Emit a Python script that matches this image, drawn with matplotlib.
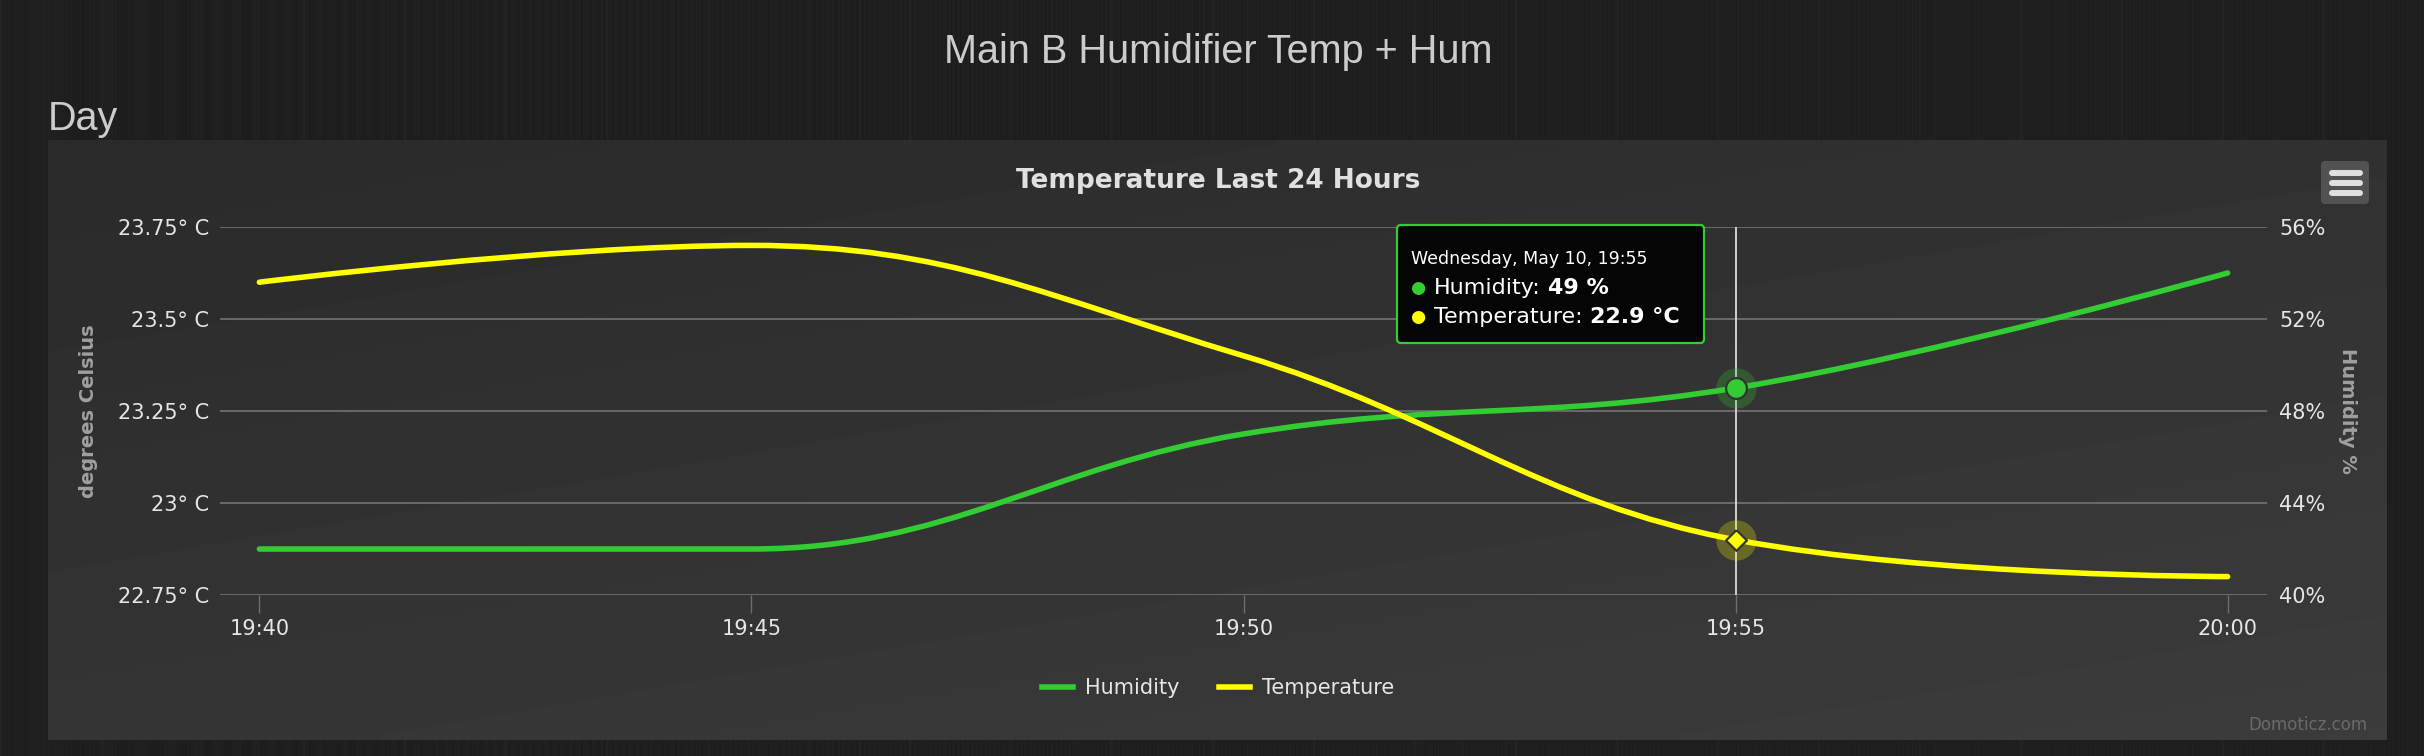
import matplotlib
matplotlib.use('Agg')
import matplotlib.pyplot as plt
import numpy as np
from matplotlib.path import Path
from matplotlib.patches import PathPatch, FancyBboxPatch
from matplotlib.lines import Line2D
from matplotlib.text import Annotation

# data (minutes after 19:40)
minutes = [0, 5, 10, 15, 20]
time_labels = ['19:40', '19:45', '19:50', '19:55', '20:00']
temperature = [23.6, 23.7, 23.4, 22.9, 22.8]
humidity = [42, 42, 47, 49, 54]
temp_ticks = [22.75, 23.0, 23.25, 23.5, 23.75]
temp_tick_labels = ['22.75° C', '23° C', '23.25° C', '23.5° C', '23.75° C']
hum_ticks = [40, 44, 48, 52, 56]
hum_tick_labels = ['40%', '44%', '48%', '52%', '56%']
hover_index = 3
hover_label = 'Wednesday, May 10, 19:55'

GREEN = '#33cc33'
YELLOW = '#ffff00'
W, H = 2424, 756


def fx(px):
    return px / W


def fy(py):
    return 1 - py / H


def spline_path(xs, ys):
    # highcharts style spline (smoothing 1.5)
    sm = 1.5
    den = sm + 1
    verts = [(xs[0], ys[0])]
    codes = [Path.MOVETO]
    prev_right = None
    for i in range(1, len(xs)):
        x, y = xs[i], ys[i]
        lx, ly = xs[i - 1], ys[i - 1]
        left = right = None
        if i < len(xs) - 1:
            nx, ny = xs[i + 1], ys[i + 1]
            lcx, lcy = (sm * x + lx) / den, (sm * y + ly) / den
            rcx, rcy = (sm * x + nx) / den, (sm * y + ny) / den
            if rcx != lcx:
                corr = (rcy - lcy) * (rcx - x) / (rcx - lcx) + y - rcy
                lcy += corr
                rcy += corr
            if lcy > ly and lcy > y:
                lcy = max(ly, y); rcy = 2 * y - lcy
            elif lcy < ly and lcy < y:
                lcy = min(ly, y); rcy = 2 * y - lcy
            if rcy > ny and rcy > y:
                rcy = max(ny, y); lcy = 2 * y - rcy
            elif rcy < ny and rcy < y:
                rcy = min(ny, y); lcy = 2 * y - rcy
            left, right = (lcx, lcy), (rcx, rcy)
        verts += [prev_right or (lx, ly), left or (x, y), (x, y)]
        codes += [Path.CURVE4] * 3
        prev_right = right
    return Path(verts, codes)


plt.rcParams['font.family'] = ['DejaVu Sans']
fig = plt.figure(figsize=(W / 100, H / 100), dpi=100)
fig.patch.set_facecolor('#1f1f1f')

# page + panel background
bg = fig.add_axes([0, 0, 1, 1], zorder=-10)
cols = np.arange(W)
page = (0.12 + 0.008 * np.sin(cols * 1.7) * np.sin(cols * 0.29)
        + 0.006 * np.sin(cols ** 2 * 0.0007)
        + 0.018 * (np.mod(cols, 101) < 2) + 0.01 * (np.mod(cols, 43) < 1))
bg.imshow(page[None, :], extent=(0, W, H, 0), cmap='gray', vmin=0, vmax=1,
          aspect='auto', interpolation='nearest')
gy, gx = np.mgrid[0:1:60j, 0:1:200j]
panel = 0.165 + 0.07 * (0.4 * gx + 0.6 * gy)
bg.imshow(panel, extent=(48, 2387, 740, 140), cmap='gray', vmin=0, vmax=1,
          aspect='auto', interpolation='bilinear')
bg.set_xlim(0, W)
bg.set_ylim(H, 0)
bg.axis('off')

fig.text(fx(1218), fy(63), 'Main B Humidifier Temp + Hum', ha='center', va='baseline',
         fontsize=28.5, family='Liberation Sans', color='#cccccc')
fig.text(fx(48), fy(130), 'Day', ha='left', va='baseline',
         fontsize=28.5, family='Liberation Sans', color='#cccccc')
fig.text(fx(1218), fy(188), 'Temperature Last 24 Hours', ha='center', va='baseline',
         fontsize=19, fontweight='bold', color='#e0e0e0')

# chart axes
ax = fig.add_axes([fx(220), fy(595), (2267 - 220) / W, (595 - 227) / H])
ax2 = ax.twinx()
ax.set_zorder(ax2.get_zorder() + 1)
for a in (ax, ax2):
    a.set_facecolor('none')
    for s in a.spines.values():
        s.set_visible(False)

ax.set_xlim(-0.4, 20.4)
ax.set_ylim(22.75, 23.75)
ax2.set_ylim(40, 56)
ax.set_xticks(minutes, time_labels)
ax.set_yticks(temp_ticks, temp_tick_labels)
ax2.set_yticks(hum_ticks, hum_tick_labels)
ax2.set_axisbelow(True)
ax2.grid(axis='y', color='#6e6e6e', lw=1.3)
ax.tick_params(axis='x', length=13, width=1, color='#6e6e6e', pad=4,
               labelsize=15, labelcolor='#e6e6e6')
ax.tick_params(axis='y', length=0, pad=8, labelsize=15, labelcolor='#e6e6e6')
ax2.tick_params(axis='y', length=0, pad=9, labelsize=15, labelcolor='#e6e6e6')

ax2.add_patch(PathPatch(spline_path(minutes, humidity), fill=False, ec=GREEN, lw=4,
                        capstyle='round', joinstyle='round', zorder=3))
ax.add_patch(PathPatch(spline_path(minutes, temperature), fill=False, ec=YELLOW, lw=4,
                       capstyle='round', joinstyle='round', zorder=3))

# hover crosshair and markers
hx = minutes[hover_index]
ax2.axvline(hx, color='#cfcfcf', lw=1.4, zorder=1.5)
ax2.plot(hx, humidity[hover_index], 'o', ms=29, color=GREEN, alpha=0.25, mec='none', zorder=4)
ax2.plot(hx, humidity[hover_index], 'o', ms=15, mfc=GREEN, mec='#333333', mew=1.6, zorder=5)
diamond = [(0, 1), (1, 0), (0, -1), (-1, 0), (0, 1)]
ax.plot(hx, temperature[hover_index], 'o', ms=29, color=YELLOW, alpha=0.25, mec='none', zorder=4)
ax.plot(hx, temperature[hover_index], marker=diamond, ms=15, mfc=YELLOW, mec='#333333',
        mew=1.6, zorder=5, ls='none')

# axis titles
fig.text(fx(89), fy(411), 'degrees Celsius', rotation=90, ha='center', va='center',
         fontsize=14, fontweight='bold', color='#a0a0a0')
fig.text(fx(2348), fy(411), 'Humidity %', rotation=270, ha='center', va='center',
         fontsize=14, fontweight='bold', color='#a0a0a0')

# legend
handles = [Line2D([], [], color=GREEN, lw=4), Line2D([], [], color=YELLOW, lw=4)]
fig.legend(handles, ['Humidity', 'Temperature'], loc='center',
           bbox_to_anchor=(fx(1218), fy(688)), ncol=2, frameon=False, fontsize=15,
           labelcolor='#e6e6e6', handlelength=1.5, handletextpad=0.55, columnspacing=1.9)

fig.text(fx(2368), fy(725), 'Domoticz.com', ha='right', va='center', fontsize=12,
         color='#6a6a6a')

# menu button
fig.add_artist(FancyBboxPatch((fx(2321), fy(204)), fx(48), 43 / H,
                              boxstyle='round,pad=0,rounding_size=0.0017',
                              mutation_aspect=W / H, transform=fig.transFigure,
                              fc='#525252', ec='none', zorder=5))
for yb in (173, 183, 193):
    fig.add_artist(Line2D([fx(2332), fx(2360)], [fy(yb)] * 2, lw=4.3, color='#e0e0e0',
                          solid_capstyle='round', transform=fig.transFigure, zorder=6))

# tooltip
fig.add_artist(FancyBboxPatch((fx(1397), fy(343)), (1704 - 1397) / W, (343 - 225) / H,
                              boxstyle='round,pad=0,rounding_size=0.0016',
                              mutation_aspect=W / H, transform=fig.transFigure,
                              fc='#050505', ec=GREEN, lw=1.6, zorder=10))
fig.text(fx(1411), fy(264), hover_label, fontsize=12.5, color='white', va='baseline', zorder=11)
rows = [('Humidity:', f'{humidity[hover_index]} %', GREEN, 294),
        ('Temperature:', f'{temperature[hover_index]} °C', YELLOW, 323)]
for name, val, col, base in rows:
    fig.text(fx(1418), fy(base - 1), '●', color=col, fontsize=12.5, ha='center',
             va='baseline', zorder=11)
    t = fig.text(fx(1434), fy(base), name, fontsize=16, color='white', va='baseline', zorder=11)
    fig.add_artist(Annotation(val, xy=(1, 0), xycoords=t, xytext=(5, 0),
                              textcoords='offset points', va='bottom', ha='left',
                              fontsize=16, fontweight='bold', color='white', zorder=12))

fig.savefig('out.png', dpi=100, facecolor=fig.get_facecolor())
